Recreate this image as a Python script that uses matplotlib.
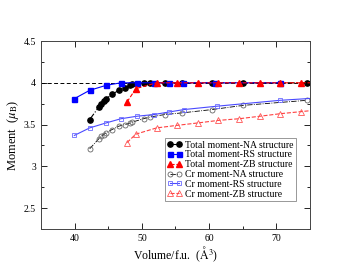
import numpy as np
import matplotlib
matplotlib.use('Agg')
import matplotlib.pyplot as plt
from matplotlib.ticker import MultipleLocator

plt.rcParams['font.family'] = ['Liberation Serif', 'DejaVu Serif']
plt.rcParams['mathtext.fontset'] = 'stix'

# total moments
na_vol = [42.24, 43.6, 43.97, 44.3, 44.67, 45.56, 46.55, 47.5, 48.3, 48.6, 50.27, 51.2, 53.4, 56.0, 60.5, 65.1, 74.5]
na_tot = [3.56, 3.71, 3.75, 3.78, 3.81, 3.86, 3.91, 3.94, 3.97, 3.98, 4.0, 4.0, 4.0, 4.0, 4.0, 4.0, 4.0]
rs_vol = [39.96, 42.24, 44.7, 46.9, 49.3, 51.8, 54.0, 56.1, 60.9, 70.5]
rs_tot = [3.81, 3.91, 3.97, 4.0, 4.0, 4.0, 4.0, 4.0, 4.0, 4.0]
zb_vol = [47.8, 49.1, 52.2, 55.2, 58.4, 61.4, 64.5, 67.6, 70.6, 73.7, 76.8]
zb_tot = [3.77, 3.93, 4.0, 4.0, 4.0, 4.0, 4.0, 4.0, 4.0, 4.0, 4.0]

# Cr moments
na_cr = [3.21, 3.33, 3.36, 3.38, 3.40, 3.44, 3.48, 3.50, 3.52, 3.53, 3.57, 3.59, 3.62, 3.64, 3.68, 3.73, 3.79]
rs_cr_vol = [39.96, 42.24, 44.7, 46.9, 49.3, 51.8, 54.0, 56.3, 61.2, 70.5, 76.5]
rs_cr = [3.37, 3.46, 3.52, 3.57, 3.60, 3.62, 3.65, 3.68, 3.72, 3.79, 3.82]
zb_cr = [3.285, 3.385, 3.46, 3.49, 3.52, 3.55, 3.57, 3.60, 3.63, 3.655, 3.68]

fig = plt.figure(figsize=(3.49, 2.70), dpi=100)
ax = fig.add_axes([0.1175, 0.152, 0.7705, 0.696])

ax.axhline(4.0, color='k', ls='--', lw=0.7, dashes=(4, 2.5), zorder=1)

ax.plot(na_vol, na_tot, '-.', color='k', marker='o', ms=3.8, lw=0.8, label='Total moment-NA structure')
ax.plot(rs_vol, rs_tot, '-', color='#0000ff', marker='s', ms=3.6, lw=0.8, label='Total moment-RS structure')
ax.plot(zb_vol, zb_tot, '--', color='#ff0000', marker='^', ms=4, lw=0.8, label='Total moment-ZB structure')
ax.plot(na_vol, na_cr, '-.', color='k', marker='o', ms=3.6, mfc='none', mec='#666666', mew=0.6, lw=0.6,
        label='Cr moment-NA structure')
ax.plot(rs_cr_vol, rs_cr, '-', color='#4a4aff', marker='s', ms=3.4, mfc='none', mec='#6a6aff', mew=0.6, lw=0.8,
        label='Cr moment-RS structure')
ax.plot(zb_vol, zb_cr, '--', color='#ff4040', marker='^', ms=4, mfc='none', mec='#ff5555', mew=0.6, lw=0.8,
        label='Cr moment-ZB structure')

ax.set_xlim(35, 75)
ax.set_ylim(2.25, 4.5)
ax.xaxis.set_major_locator(MultipleLocator(10))
ax.xaxis.set_minor_locator(MultipleLocator(5))
ax.yaxis.set_minor_locator(MultipleLocator(0.25))
ax.set_yticks([2.5, 3, 3.5, 4, 4.5])
ax.set_yticklabels(['2.5', '3', '3.5', '4', '4.5'])
ax.tick_params(which='both', direction='in', top=True, right=True, labelsize=7, width=0.6)
ax.tick_params(which='major', length=4)
ax.tick_params(which='minor', length=2)
for s in ax.spines.values():
    s.set_linewidth(0.7)
    s.set_color('#444444')

ax.set_xlabel(r'Volume/f.u.  ($\mathrm{\AA}^3$)', fontsize=8.5, labelpad=1)
ax.set_ylabel(r'Moment  ($\mu_\mathrm{B}$)', fontsize=9, labelpad=2)

leg = ax.legend(loc='lower right', bbox_to_anchor=(0.948, 0.149), fontsize=7, numpoints=2,
                handlelength=1.5, handletextpad=0.3, labelspacing=0.08, borderpad=0.25,
                fancybox=False, framealpha=1, edgecolor='#888888', borderaxespad=0)
leg.get_frame().set_linewidth(0.6)

fig.savefig('out.png', dpi=100)
